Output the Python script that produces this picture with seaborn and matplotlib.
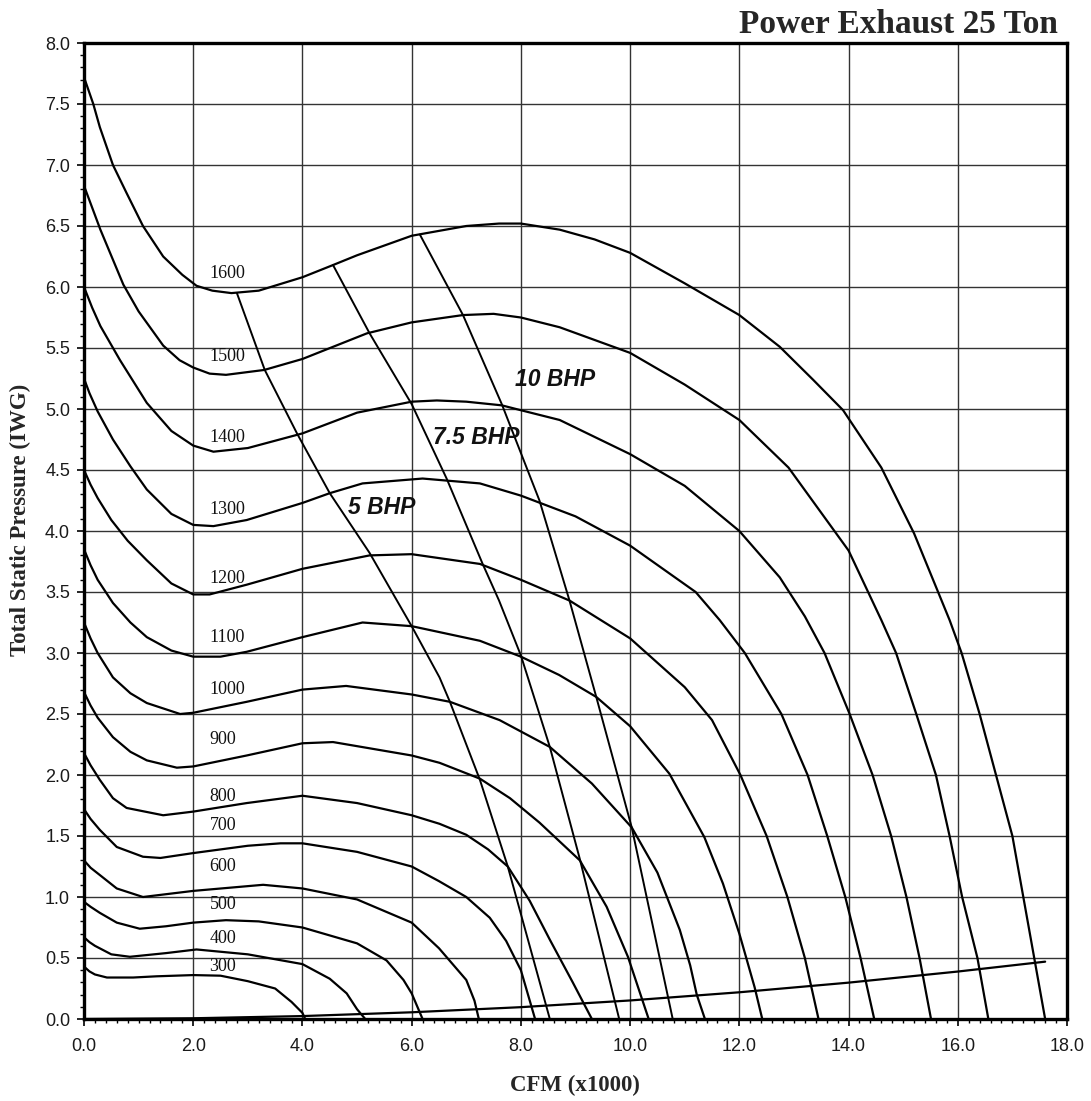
import matplotlib
matplotlib.use("Agg")
import matplotlib.pyplot as plt
import seaborn as sns
import pandas as pd
from matplotlib.ticker import MultipleLocator, FormatStrFormatter

# ---------------- data ----------------
rpm_values = [300, 400, 500, 600, 700, 800, 900, 1000, 1100, 1200, 1300, 1400, 1500, 1600]

cfm_300 = [0, 0.1, 0.2, 0.42, 0.9, 1.33, 2.0, 2.5, 3.0, 3.5, 3.8, 4.0, 4.05]
tsp_300 = [0.43, 0.39, 0.365, 0.34, 0.34, 0.35, 0.36, 0.355, 0.31, 0.25, 0.14, 0.05, 0.0]

cfm_400 = [0, 0.1, 0.2, 0.5, 0.84, 1.5, 2.06, 3.0, 4.0, 4.5, 4.81, 5.0, 5.15]
tsp_400 = [0.67, 0.63, 0.6, 0.53, 0.51, 0.54, 0.57, 0.53, 0.45, 0.33, 0.21, 0.08, 0.0]

cfm_500 = [0, 0.12, 0.29, 0.6, 1.02, 1.5, 2.0, 2.6, 3.2, 4.0, 5.0, 5.54, 5.85, 6.0, 6.2]
tsp_500 = [0.96, 0.92, 0.87, 0.79, 0.74, 0.76, 0.79, 0.81, 0.80, 0.75, 0.62, 0.48, 0.32, 0.21, 0.0]

cfm_600 = [0, 0.12, 0.29, 0.6, 1.08, 2.0, 3.28, 4.0, 5.0, 6.0, 6.5, 7.0, 7.15, 7.23]
tsp_600 = [1.30, 1.24, 1.18, 1.07, 1.00, 1.05, 1.10, 1.07, 0.98, 0.79, 0.58, 0.32, 0.15, 0.0]

cfm_700 = [0, 0.12, 0.29, 0.6, 1.08, 1.4, 2.0, 3.0, 3.6, 4.0, 5.0, 6.0, 6.5, 7.0, 7.43, 7.73, 8.0, 8.26]
tsp_700 = [1.72, 1.64, 1.55, 1.41, 1.33, 1.32, 1.36, 1.42, 1.44, 1.44, 1.37, 1.25, 1.13, 1.0, 0.83, 0.64, 0.4, 0.0]

cfm_800 = [0, 0.12, 0.29, 0.53, 0.78, 1.45, 2.0, 2.98, 4.0, 5.0, 6.0, 6.51, 7.0, 7.4, 7.76, 8.16, 8.53, 8.95, 9.3]
tsp_800 = [2.18, 2.08, 1.96, 1.81, 1.73, 1.67, 1.70, 1.77, 1.83, 1.77, 1.67, 1.60, 1.51, 1.39, 1.25, 0.97, 0.65, 0.3, 0.0]

cfm_900 = [0, 0.12, 0.25, 0.53, 0.85, 1.15, 1.7, 2.0, 2.98, 4.0, 4.56, 6.0, 6.51, 7.25, 7.8, 8.34, 9.08, 9.57, 9.96, 10.34]
tsp_900 = [2.68, 2.57, 2.47, 2.31, 2.19, 2.12, 2.06, 2.07, 2.16, 2.26, 2.27, 2.16, 2.10, 1.97, 1.81, 1.61, 1.30, 0.92, 0.51, 0.0]

cfm_1000 = [0, 0.12, 0.25, 0.53, 0.85, 1.15, 1.76, 2.0, 2.98, 4.0, 4.8, 6.0, 6.7, 7.61, 8.53, 9.3, 10.03, 10.5, 10.91, 11.1, 11.22, 11.37]
tsp_1000 = [3.25, 3.12, 3.0, 2.8, 2.67, 2.59, 2.50, 2.51, 2.60, 2.70, 2.73, 2.66, 2.60, 2.45, 2.23, 1.93, 1.57, 1.2, 0.73, 0.44, 0.2, 0.0]

cfm_1100 = [0, 0.12, 0.25, 0.53, 0.85, 1.15, 1.6, 2.0, 2.5, 2.98, 4.0, 5.1, 6.0, 7.25, 8.0, 8.7, 9.38, 10.0, 10.72, 11.36, 11.7, 12.0, 12.28, 12.42]
tsp_1100 = [3.85, 3.72, 3.6, 3.41, 3.25, 3.13, 3.02, 2.97, 2.97, 3.01, 3.13, 3.25, 3.22, 3.10, 2.97, 2.82, 2.64, 2.40, 2.01, 1.49, 1.11, 0.70, 0.26, 0.0]

cfm_1200 = [0, 0.12, 0.25, 0.5, 0.8, 1.15, 1.6, 2.0, 2.3, 2.98, 4.0, 5.23, 6.0, 7.25, 8.0, 8.89, 10.0, 11.0, 11.5, 12.02, 12.5, 12.88, 13.2, 13.45]
tsp_1200 = [4.5, 4.38, 4.27, 4.09, 3.92, 3.76, 3.57, 3.48, 3.48, 3.56, 3.69, 3.80, 3.81, 3.73, 3.60, 3.43, 3.12, 2.72, 2.45, 2.0, 1.5, 1.0, 0.5, 0.0]

cfm_1300 = [0, 0.1, 0.25, 0.53, 0.85, 1.15, 1.6, 2.0, 2.37, 2.98, 4.0, 4.5, 5.1, 6.2, 7.25, 8.0, 9.0, 10.0, 11.2, 11.64, 12.1, 12.77, 13.25, 13.61, 13.94, 14.22, 14.47]
tsp_1300 = [5.25, 5.13, 4.98, 4.75, 4.53, 4.34, 4.14, 4.05, 4.04, 4.09, 4.23, 4.31, 4.39, 4.43, 4.39, 4.29, 4.12, 3.88, 3.5, 3.27, 3.0, 2.5, 2.0, 1.5, 1.0, 0.5, 0.0]

cfm_1400 = [0, 0.15, 0.3, 0.66, 1.15, 1.6, 2.0, 2.37, 3.0, 4.0, 5.0, 6.0, 6.46, 7.0, 7.65, 8.0, 8.71, 10.0, 11.0, 12.0, 12.74, 13.2, 13.56, 14.02, 14.44, 14.78, 15.06, 15.3, 15.51]
tsp_1400 = [6.0, 5.83, 5.68, 5.4, 5.05, 4.82, 4.7, 4.65, 4.68, 4.80, 4.97, 5.06, 5.07, 5.06, 5.03, 4.99, 4.91, 4.63, 4.37, 4.0, 3.62, 3.3, 3.0, 2.5, 2.0, 1.5, 1.0, 0.5, 0.0]

cfm_1500 = [0, 0.15, 0.3, 0.72, 1.0, 1.45, 1.75, 2.0, 2.3, 2.6, 3.3, 4.0, 5.18, 6.0, 6.94, 7.5, 8.0, 8.71, 10.0, 11.0, 12.0, 12.9, 14.0, 14.6, 14.87, 15.24, 15.6, 15.85, 16.08, 16.36, 16.56]
tsp_1500 = [6.83, 6.65, 6.47, 6.02, 5.8, 5.52, 5.4, 5.34, 5.29, 5.28, 5.32, 5.41, 5.62, 5.71, 5.77, 5.78, 5.75, 5.67, 5.46, 5.2, 4.91, 4.52, 3.84, 3.27, 3.0, 2.5, 2.0, 1.5, 1.0, 0.5, 0.0]

cfm_1600 = [0, 0.17, 0.29, 0.53, 0.78, 1.08, 1.45, 1.8, 2.06, 2.35, 2.7, 3.2, 4.0, 4.56, 5.0, 6.0, 7.0, 7.6, 8.0, 8.71, 9.35, 10.0, 11.0, 12.0, 12.74, 13.35, 13.9, 14.6, 15.2, 15.85, 16.07, 16.4, 16.7, 17.0, 17.2, 17.4, 17.6]
tsp_1600 = [7.72, 7.5, 7.31, 7.0, 6.77, 6.5, 6.25, 6.1, 6.01, 5.97, 5.95, 5.97, 6.08, 6.18, 6.26, 6.42, 6.5, 6.52, 6.52, 6.47, 6.39, 6.28, 6.03, 5.77, 5.51, 5.24, 4.99, 4.52, 3.98, 3.27, 3.0, 2.5, 2.0, 1.5, 1.0, 0.5, 0.0]

bhp_names = ["5 BHP", "7.5 BHP", "10 BHP"]
cfm_5bhp = [2.8, 3.31, 3.9, 4.5, 5.23, 5.73, 6.0, 6.51, 6.7, 7.25, 7.76, 8.53]
tsp_5bhp = [5.95, 5.32, 4.8, 4.31, 3.82, 3.43, 3.22, 2.8, 2.6, 1.96, 1.25, 0.0]
cfm_75bhp = [4.56, 5.23, 6.0, 6.64, 7.3, 7.6, 8.0, 8.53, 9.08, 9.8]
tsp_75bhp = [6.18, 5.62, 5.04, 4.43, 3.73, 3.43, 2.98, 2.23, 1.31, 0.0]
cfm_10bhp = [6.15, 6.94, 7.65, 8.34, 8.89, 9.38, 10.03, 10.78]
tsp_10bhp = [6.43, 5.77, 5.04, 4.25, 3.43, 2.64, 1.57, 0.0]

cfm_system = [0, 2, 4, 6, 8, 10, 12, 14, 16, 17.6]
tsp_system = [0, 0.006, 0.024, 0.055, 0.097, 0.152, 0.219, 0.298, 0.389, 0.47]

x_ticks_step, y_ticks_step = 2.0, 0.5

# label anchor positions (data coords)
rpm_label_x = 2.3
rpm_label_y = [0.43, 0.66, 0.94, 1.25, 1.59, 1.82, 2.29, 2.70, 3.13, 3.61, 4.18, 4.77, 5.43, 6.11]
bhp_label_x = [4.83, 6.39, 7.89]
bhp_label_y = [4.19, 4.77, 5.24]

# ---------------- build tables ----------------
rpm_cfm = [cfm_300, cfm_400, cfm_500, cfm_600, cfm_700, cfm_800, cfm_900,
           cfm_1000, cfm_1100, cfm_1200, cfm_1300, cfm_1400, cfm_1500, cfm_1600]
rpm_tsp = [tsp_300, tsp_400, tsp_500, tsp_600, tsp_700, tsp_800, tsp_900,
           tsp_1000, tsp_1100, tsp_1200, tsp_1300, tsp_1400, tsp_1500, tsp_1600]
rows = []
for r, xs, ys in zip(rpm_values, rpm_cfm, rpm_tsp):
    for i, (a, b) in enumerate(zip(xs, ys)):
        rows.append({"rpm": r, "order": i, "cfm": a, "tsp": b})
df_rpm = pd.DataFrame(rows)

bhp_cfm = [cfm_5bhp, cfm_75bhp, cfm_10bhp]
bhp_tsp = [tsp_5bhp, tsp_75bhp, tsp_10bhp]
rows = []
for n, xs, ys in zip(bhp_names, bhp_cfm, bhp_tsp):
    for i, (a, b) in enumerate(zip(xs, ys)):
        rows.append({"bhp": n, "order": i, "cfm": a, "tsp": b})
df_bhp = pd.DataFrame(rows)
df_sys = pd.DataFrame({"cfm": cfm_system, "tsp": tsp_system})

# ---------------- plot ----------------
sns.set_style("white")
plt.rcParams["font.family"] = ["Liberation Sans", "DejaVu Sans"]

W, H = 1091, 1101
fig = plt.figure(figsize=(W / 100, H / 100), dpi=100)
ax = fig.add_axes([84 / W, 1 - 1019 / H, (1067 - 84) / W, (1019 - 43) / H])

sns.lineplot(data=df_rpm, x="cfm", y="tsp", units="rpm", estimator=None, sort=False,
             color="black", linewidth=1.6, ax=ax, legend=False,
             solid_joinstyle="round", solid_capstyle="round")
sns.lineplot(data=df_bhp, x="cfm", y="tsp", units="bhp", estimator=None, sort=False,
             color="black", linewidth=1.4, ax=ax, legend=False,
             solid_joinstyle="round")
sns.lineplot(data=df_sys, x="cfm", y="tsp", sort=False, color="black",
             linewidth=1.6, ax=ax, legend=False, solid_joinstyle="round")

ax.set_xlim(0, 18)
ax.set_ylim(0, 8)
ax.xaxis.set_major_locator(MultipleLocator(x_ticks_step))
ax.xaxis.set_minor_locator(MultipleLocator(0.2))
ax.yaxis.set_major_locator(MultipleLocator(y_ticks_step))
ax.yaxis.set_minor_locator(MultipleLocator(0.1))
ax.xaxis.set_major_formatter(FormatStrFormatter("%.1f"))
ax.yaxis.set_major_formatter(FormatStrFormatter("%.1f"))
ax.grid(True, which="major", color="#333333", linewidth=1.0)
ax.set_axisbelow(True)
ax.tick_params(which="major", direction="out", length=5, width=1.2, color="black",
               labelsize=13, labelcolor="#1a1a1a")
ax.tick_params(axis="x", which="major", pad=9)
ax.tick_params(axis="y", which="major", pad=5)
ax.tick_params(which="minor", direction="out", length=3, width=1.0, color="black")
ax.tick_params(bottom=True, left=True, which="both")
for s in ax.spines.values():
    s.set_visible(True)
    s.set_linewidth(2.4)
    s.set_color("black")
ax.set_xlabel("")
ax.set_ylabel("")

for r, yy in zip(rpm_values, rpm_label_y):
    ax.text(rpm_label_x, yy, str(r), ha="left", va="center", fontsize=13,
            family="Liberation Serif", color="#111111")
for n, xx, yy in zip(bhp_names, bhp_label_x, bhp_label_y):
    ax.text(xx, yy, n, ha="left", va="center", fontsize=16.5, fontweight="bold",
            fontstyle="italic", family="Liberation Sans", color="#111111")

fig.text(1058 / W, 1 - 33 / H, "Power Exhaust 25 Ton", ha="right", va="baseline",
         fontsize=24, fontweight="bold", family="Liberation Serif")
fig.text(575 / W, 1 - 1085 / H, "CFM (x1000)", ha="center", va="center",
         fontsize=16.5, fontweight="bold", family="Liberation Serif")
fig.text(20 / W, 1 - 520 / H, "Total Static Pressure (IWG)", ha="center", va="center",
         rotation=90, fontsize=16.5, fontweight="bold", family="Liberation Serif")

fig.savefig("out.png", dpi=100, facecolor="white")
